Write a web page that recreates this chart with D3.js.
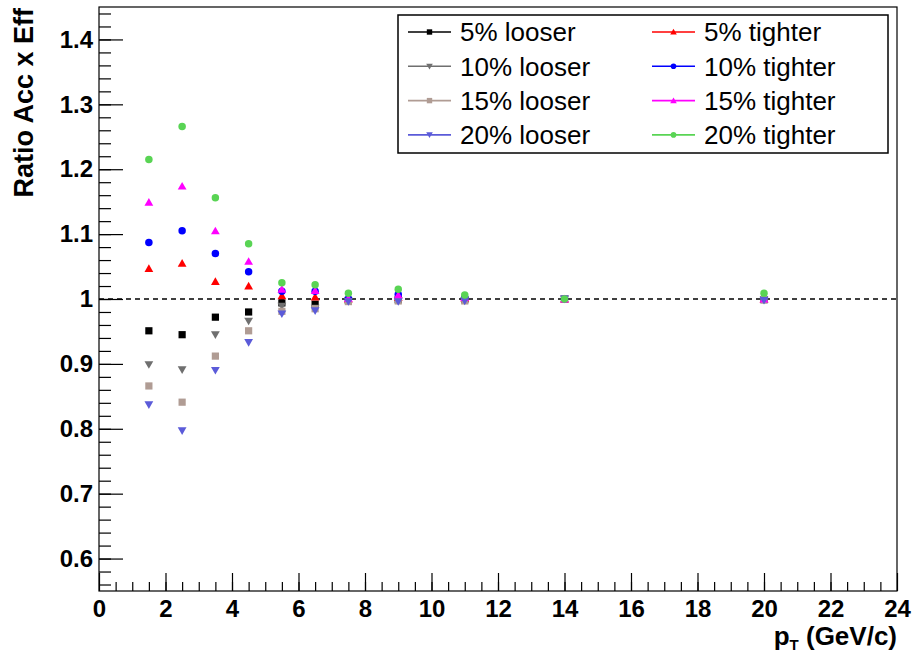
<!DOCTYPE html>
<html>
<head>
<meta charset="utf-8">
<script src="https://cdn.jsdelivr.net/npm/d3@7"></script>
<style>
  html, body { margin: 0; padding: 0; background: #fff; }
  svg text { font-family: "Liberation Sans", Arial, Helvetica, sans-serif; }
</style>
</head>
<body>
<svg id="chart" width="917" height="655"></svg>
<script>
// ---- data ----
const pt = [1.5, 2.5, 3.5, 4.5, 5.5, 6.5, 7.5, 9, 11, 14, 20];

const looser5  = [0.951, 0.945, 0.972, 0.980, 0.994, 0.992, 0.998, 0.999, 0.999, 1.000, 0.999];
const looser10 = [0.899, 0.891, 0.945, 0.966, 0.989, 0.986, 0.997, 0.998, 0.998, 1.000, 0.999];
const looser15 = [0.866, 0.841, 0.912, 0.951, 0.981, 0.985, 0.996, 0.997, 0.997, 1.000, 0.999];
const looser20 = [0.837, 0.797, 0.890, 0.933, 0.977, 0.982, 0.996, 0.996, 0.997, 1.000, 0.998];
const tighter5  = [1.047, 1.055, 1.027, 1.020, 1.005, 1.003, 1.000, 1.002, 1.001, 1.000, 1.000];
const tighter10 = [1.087, 1.105, 1.070, 1.042, 1.012, 1.012, 1.000, 1.007, 1.002, 1.000, 1.001];
const tighter15 = [1.149, 1.174, 1.105, 1.058, 1.015, 1.013, 1.001, 1.006, 1.002, 1.000, 1.000];
const tighter20 = [1.215, 1.266, 1.156, 1.085, 1.025, 1.022, 1.009, 1.015, 1.006, 1.000, 1.009];

const seriesNames = ["5% looser", "5% tighter", "10% looser", "10% tighter",
                     "15% looser", "15% tighter", "20% looser", "20% tighter"];
const seriesValues = [looser5, tighter5, looser10, tighter10, looser15, tighter15, looser20, tighter20];

const xTickValues = [0, 2, 4, 6, 8, 10, 12, 14, 16, 18, 20, 22, 24];
const yTickValues = [0.6, 0.7, 0.8, 0.9, 1.0, 1.1, 1.2, 1.3, 1.4];
const yTickLabels = ["0.6", "0.7", "0.8", "0.9", "1", "1.1", "1.2", "1.3", "1.4"];
const xTitle = "p";
const xTitleSub = "T";
const xTitleRest = " (GeV/c)";
const yTitle = "Ratio Acc x Eff";
const refLine = 1.0;

// ---- styles (separate from data) ----
const styles = [
  { color: "#000000", marker: "square" },
  { color: "#ff0000", marker: "up" },
  { color: "#6f6f6f", marker: "down" },
  { color: "#0000ff", marker: "circle" },
  { color: "#b09c94", marker: "square" },
  { color: "#ff00ff", marker: "up" },
  { color: "#5b5bd9", marker: "down" },
  { color: "#59d454", marker: "circle" }
];

const svg = d3.select("#chart");
const L = 99, R = 897, T = 7, B = 591;

const x = d3.scaleLinear().domain([0, 24]).range([L, R]);
const y = d3.scaleLinear().domain([0.55, 1.45]).range([B, T]);

function markerPath(type) {
  switch (type) {
    case "square": return "M-3.6,-3.6H3.6V3.6H-3.6Z";
    case "up": return "M0,-4.2L4.4,3.4L-4.4,3.4Z";
    case "down": return "M0,4.2L4.4,-3.4L-4.4,-3.4Z";
    case "circle": return d3.symbol(d3.symbolCircle, 44)();
  }
}

// frame
svg.append("rect").attr("x", L).attr("y", T).attr("width", R - L).attr("height", B - T)
  .attr("fill", "none").attr("stroke", "#000").attr("stroke-width", 1.2);

// y axis minor
const yMinor = d3.range(0.56, 1.449, 0.02);
svg.append("g").attr("transform", `translate(${L},0)`)
  .call(d3.axisLeft(y).tickValues(yMinor).tickSize(-12).tickFormat(""))
  .call(g => g.select(".domain").remove())
  .call(g => g.selectAll("line").attr("stroke", "#000").attr("stroke-width", 1.2));
// y axis major
svg.append("g").attr("transform", `translate(${L},0)`)
  .call(d3.axisLeft(y).tickValues(yTickValues).tickSize(-24).tickPadding(6)
        .tickFormat((d, i) => yTickLabels[i]))
  .call(g => g.select(".domain").remove())
  .call(g => g.selectAll("line").attr("stroke", "#000").attr("stroke-width", 1.2))
  .call(g => g.selectAll("text").attr("font-size", 24).attr("font-weight", "bold")
        .attr("font-family", "'Liberation Sans', Arial, sans-serif").attr("fill", "#000"));

// x axis minor
const xMinor = d3.range(0.5, 24, 0.5);
svg.append("g").attr("transform", `translate(0,${B})`)
  .call(d3.axisBottom(x).tickValues(xMinor).tickSize(-9).tickFormat(""))
  .call(g => g.select(".domain").remove())
  .call(g => g.selectAll("line").attr("stroke", "#000").attr("stroke-width", 1.2));
// x axis major
svg.append("g").attr("transform", `translate(0,${B})`)
  .call(d3.axisBottom(x).tickValues(xTickValues).tickSize(-18).tickPadding(9).tickFormat(d3.format("d")))
  .call(g => g.select(".domain").remove())
  .call(g => g.selectAll("line").attr("stroke", "#000").attr("stroke-width", 1.2))
  .call(g => g.selectAll("text").attr("font-size", 24).attr("font-weight", "bold")
        .attr("font-family", "'Liberation Sans', Arial, sans-serif").attr("fill", "#000"));

// axis titles
const xt = svg.append("text").attr("x", R).attr("y", 645).attr("text-anchor", "end")
  .attr("font-size", 26).attr("font-weight", "bold");
xt.append("tspan").text(xTitle);
xt.append("tspan").attr("font-size", 15).attr("dy", 5).text(xTitleSub);
xt.append("tspan").attr("dy", -5).text(xTitleRest);

svg.append("text").attr("transform", `translate(33,${T + 1}) rotate(-90)`)
  .attr("text-anchor", "end").attr("font-size", 27).attr("font-weight", "bold").text(yTitle);

// reference dashed line
svg.append("line").attr("x1", L).attr("x2", R).attr("y1", y(refLine)).attr("y2", y(refLine))
  .attr("stroke", "#000").attr("stroke-width", 1.3).attr("stroke-dasharray", "5,4");

// markers
seriesValues.forEach((vals, si) => {
  const st = styles[si];
  svg.append("g").selectAll("path").data(vals.map((v, i) => [pt[i], v])).join("path")
    .attr("d", markerPath(st.marker))
    .attr("transform", d => `translate(${x(d[0])},${y(d[1])})`)
    .attr("fill", st.color);
});

// legend
const lg = svg.append("g");
lg.append("rect").attr("x", 398).attr("y", 15).attr("width", 490).attr("height", 138)
  .attr("fill", "#fff").attr("stroke", "#000").attr("stroke-width", 1.5);
seriesNames.forEach((name, i) => {
  const col = i % 2, row = Math.floor(i / 2);
  const cy = 32 + row * 34.3;
  const lx = col === 0 ? 408 : 652;
  const st = styles[i];
  lg.append("line").attr("x1", lx).attr("x2", lx + 43).attr("y1", cy).attr("y2", cy)
    .attr("stroke", st.color).attr("stroke-width", 1.6);
  lg.append("path").attr("d", markerPath(st.marker))
    .attr("transform", `translate(${lx + 21.5},${cy}) scale(0.75)`).attr("fill", st.color);
  lg.append("text").attr("x", lx + 52).attr("y", cy).attr("dy", "0.36em")
    .attr("font-size", 26).attr("fill", "#000").text(name);
});
</script>
</body>
</html>
